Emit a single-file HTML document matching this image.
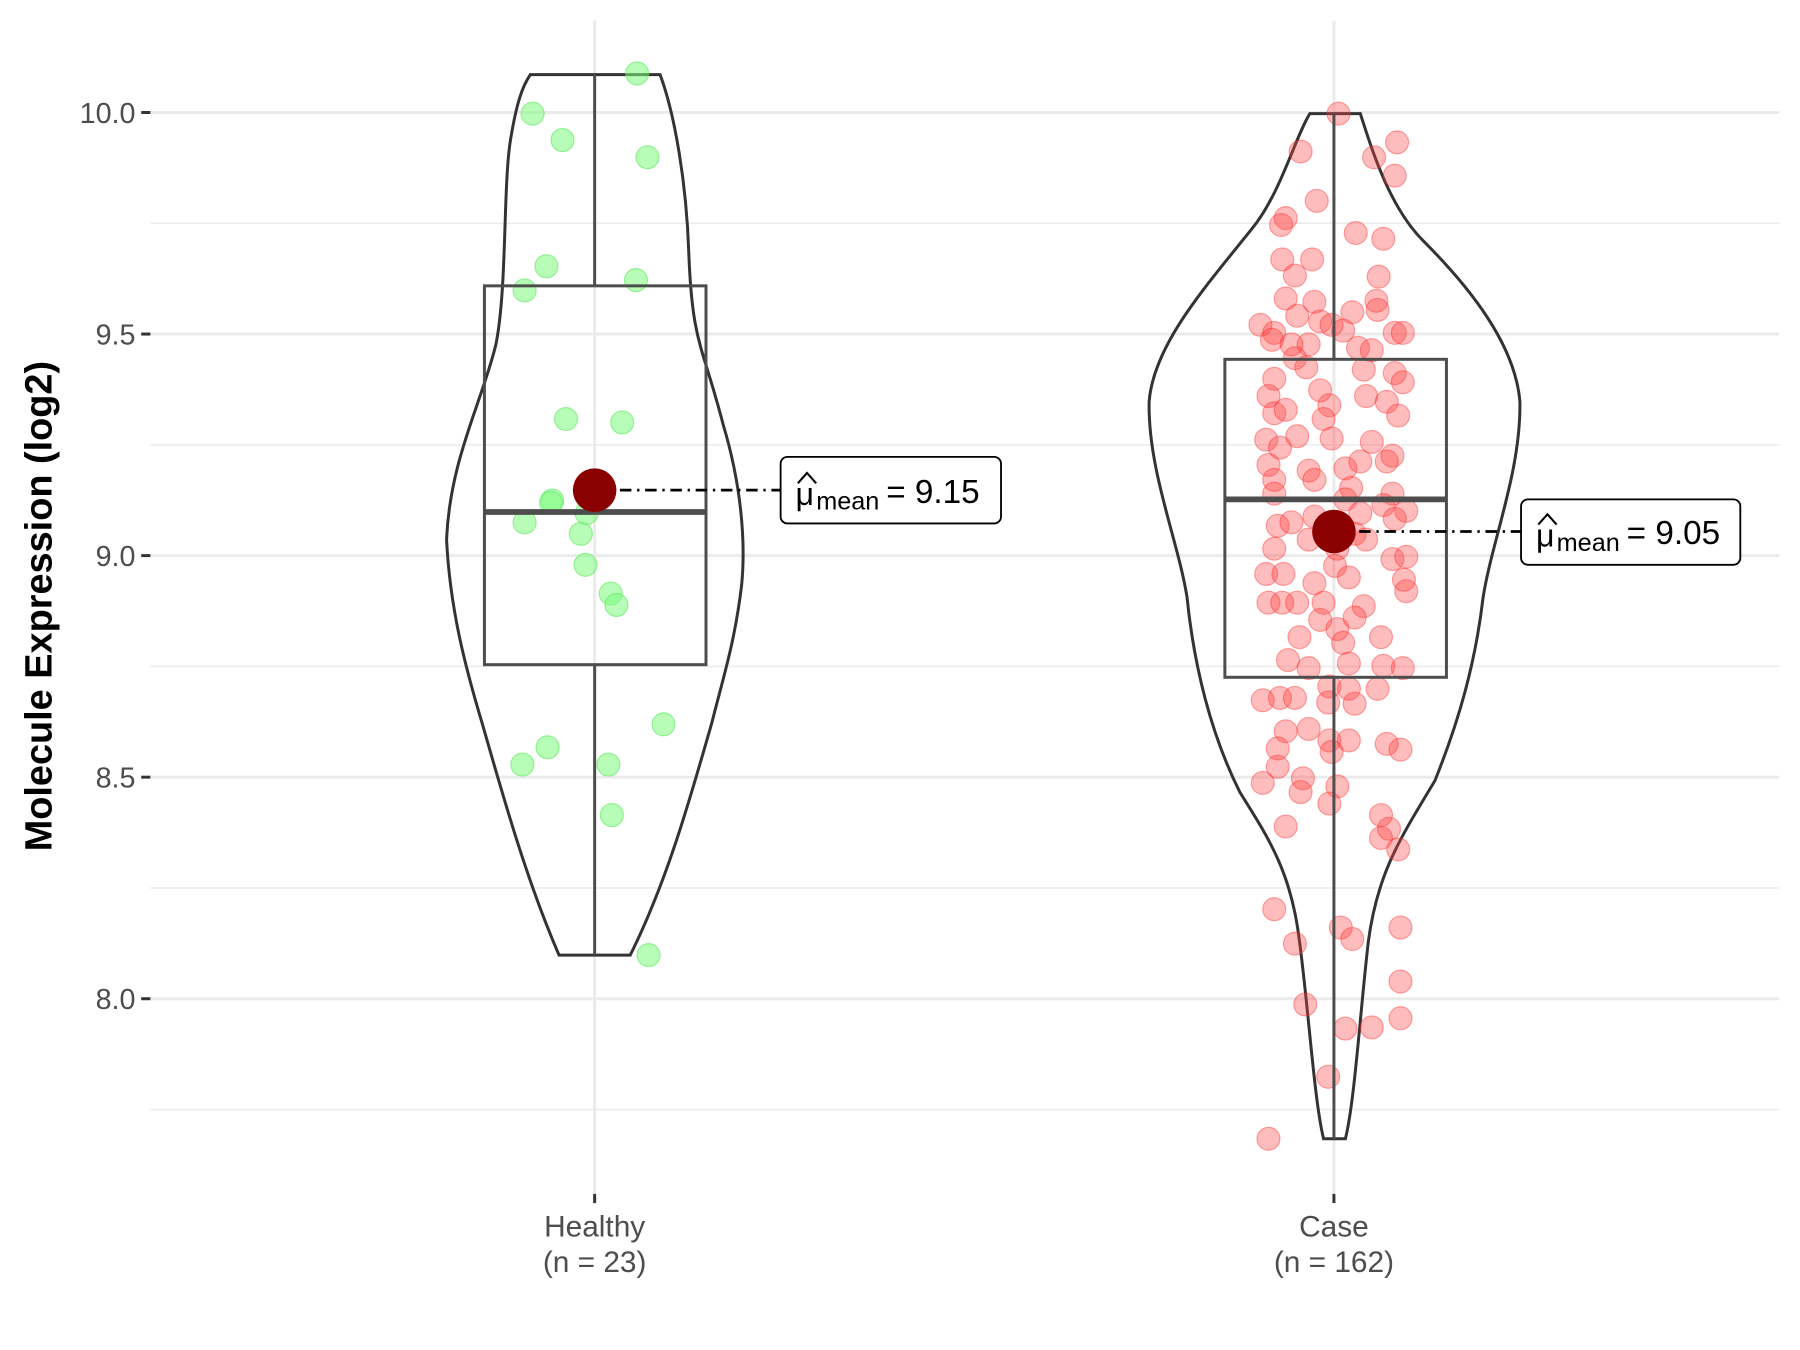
<!DOCTYPE html>
<html><head><meta charset="utf-8"><style>
html,body{margin:0;padding:0;background:#fff;}
svg{display:block;}
text{font-family:"Liberation Sans",sans-serif;}
</style></head><body>
<svg width="1800" height="1350" viewBox="0 0 1568 1176" preserveAspectRatio="none" xmlns="http://www.w3.org/2000/svg">
<rect width="1568" height="1176" fill="#fff"/>
<g stroke="#ebebeb" stroke-width="1.3">
<line x1="131" x2="1550" y1="194.5" y2="194.5"/>
<line x1="131" x2="1550" y1="387.5" y2="387.5"/>
<line x1="131" x2="1550" y1="580.5" y2="580.5"/>
<line x1="131" x2="1550" y1="773.5" y2="773.5"/>
<line x1="131" x2="1550" y1="966.5" y2="966.5"/>
</g>
<g stroke="#ebebeb" stroke-width="2.6">
<line x1="131" x2="1550" y1="98" y2="98"/>
<line x1="131" x2="1550" y1="291" y2="291"/>
<line x1="131" x2="1550" y1="484" y2="484"/>
<line x1="131" x2="1550" y1="677" y2="677"/>
<line x1="131" x2="1550" y1="870" y2="870"/>
<line x1="518" x2="518" y1="18" y2="1040"/>
<line x1="1162" x2="1162" y1="18" y2="1040"/>
</g>
<g stroke="#333" stroke-width="2.6">
<line x1="123" x2="131" y1="98" y2="98"/><line x1="123" x2="131" y1="291" y2="291"/>
<line x1="123" x2="131" y1="484" y2="484"/><line x1="123" x2="131" y1="677" y2="677"/>
<line x1="123" x2="131" y1="870" y2="870"/>
<line x1="518" x2="518" y1="1040" y2="1048"/><line x1="1162" x2="1162" y1="1040" y2="1048"/>
</g>
<g font-size="25" fill="#4d4d4d" text-anchor="end">
<text x="118" y="107">10.0</text><text x="118" y="300">9.5</text><text x="118" y="493">9.0</text>
<text x="118" y="686">8.5</text><text x="118" y="879">8.0</text>
</g>
<g font-size="26" fill="#4d4d4d" text-anchor="middle">
<text x="518" y="1077">Healthy</text><text x="518" y="1108">(n = 23)</text>
<text x="1162" y="1077">Case</text><text x="1162" y="1108">(n = 162)</text>
</g>
<text transform="translate(45,528) rotate(-90)" font-size="33" font-weight="bold" text-anchor="middle" fill="#000">Molecule Expression (log2)</text>

<path d="M462,65 L575,65 C588,100 598,160 600,220 C603,300 612,300 630,370 C645,420 650,470 646,510 C640,560 630,590 620,630 C600,700 580,770 549,832 L487,832 C460,770 440,700 420,630 C405,580 392,530 389,470 C392,400 420,350 432,300 C442,250 438,160 445,120 C450,90 455,75 462,65 Z" fill="none" stroke="#333" stroke-width="2.6"/>
<path d="M1141,99 L1185,99 C1195,130 1210,180 1240,210 C1280,250 1320,300 1324,350 C1325,410 1300,470 1292,520 C1285,580 1270,630 1250,680 C1220,730 1200,760 1192,820 C1185,880 1180,960 1172,992 L1153,992 C1145,960 1140,880 1132,820 C1125,760 1105,730 1080,690 C1055,640 1040,580 1034,520 C1026,470 1000,410 1001,350 C1005,300 1050,250 1090,200 C1115,170 1128,120 1141,99 Z" fill="none" stroke="#333" stroke-width="2.6"/>

<g fill="#7CFC7C" fill-opacity="0.55" stroke="#5ee65e" stroke-opacity="0.6" stroke-width="1">
<circle cx="464" cy="99" r="10"/><circle cx="490" cy="122" r="10"/><circle cx="555" cy="64" r="10"/>
<circle cx="564" cy="137" r="10"/><circle cx="476" cy="232" r="10"/><circle cx="457" cy="253" r="10"/>
<circle cx="554" cy="244" r="10"/><circle cx="493" cy="365" r="10"/><circle cx="542" cy="368" r="10"/>
<circle cx="481" cy="436" r="10"/><circle cx="457" cy="455" r="10"/><circle cx="506" cy="465" r="10"/>
<circle cx="510" cy="492" r="10"/><circle cx="532" cy="517" r="10"/><circle cx="537" cy="527" r="10"/>
<circle cx="578" cy="631" r="10"/><circle cx="477" cy="651" r="10"/><circle cx="455" cy="666" r="10"/>
<circle cx="530" cy="666" r="10"/><circle cx="533" cy="710" r="10"/><circle cx="565" cy="832" r="10"/>
<circle cx="511" cy="447" r="10"/><circle cx="480" cy="438" r="10"/>
</g>
<g fill="#ff4040" fill-opacity="0.35" stroke="#ff2020" stroke-opacity="0.4" stroke-width="1">
<circle cx="1166" cy="99" r="10"/><circle cx="1133" cy="132" r="10"/><circle cx="1217" cy="124" r="10"/><circle cx="1197" cy="137" r="10"/><circle cx="1215" cy="153" r="10"/>
<circle cx="1147" cy="175" r="10"/><circle cx="1120" cy="190" r="10"/><circle cx="1116" cy="196" r="10"/><circle cx="1181" cy="203" r="10"/><circle cx="1205" cy="208" r="10"/>
<circle cx="1117" cy="226" r="10"/><circle cx="1143" cy="226" r="10"/><circle cx="1128" cy="240" r="10"/><circle cx="1201" cy="241" r="10"/><circle cx="1120" cy="260" r="10"/>
<circle cx="1145" cy="263" r="10"/><circle cx="1199" cy="262" r="10"/><circle cx="1178" cy="272" r="10"/><circle cx="1200" cy="270" r="10"/><circle cx="1098" cy="283" r="10"/>
<circle cx="1110" cy="290" r="10"/><circle cx="1130" cy="275" r="10"/><circle cx="1150" cy="280" r="10"/><circle cx="1160" cy="283" r="10"/><circle cx="1170" cy="288" r="10"/>
<circle cx="1215" cy="290" r="10"/><circle cx="1222" cy="290" r="10"/><circle cx="1108" cy="296" r="10"/><circle cx="1140" cy="300" r="10"/><circle cx="1183" cy="303" r="10"/>
<circle cx="1128" cy="312" r="10"/><circle cx="1110" cy="330" r="10"/><circle cx="1138" cy="320" r="10"/><circle cx="1188" cy="322" r="10"/><circle cx="1215" cy="325" r="10"/>
<circle cx="1222" cy="333" r="10"/><circle cx="1105" cy="345" r="10"/><circle cx="1158" cy="353" r="10"/><circle cx="1190" cy="345" r="10"/><circle cx="1208" cy="350" r="10"/>
<circle cx="1110" cy="360" r="10"/><circle cx="1120" cy="357" r="10"/><circle cx="1153" cy="365" r="10"/><circle cx="1218" cy="362" r="10"/><circle cx="1103" cy="383" r="10"/>
<circle cx="1130" cy="380" r="10"/><circle cx="1160" cy="382" r="10"/><circle cx="1195" cy="385" r="10"/><circle cx="1115" cy="390" r="10"/><circle cx="1213" cy="397" r="10"/>
<circle cx="1105" cy="405" r="10"/><circle cx="1140" cy="410" r="10"/><circle cx="1172" cy="408" r="10"/><circle cx="1185" cy="402" r="10"/><circle cx="1208" cy="402" r="10"/>
<circle cx="1110" cy="418" r="10"/><circle cx="1145" cy="418" r="10"/><circle cx="1177" cy="425" r="10"/><circle cx="1213" cy="430" r="10"/><circle cx="1110" cy="430" r="10"/>
<circle cx="1172" cy="435" r="10"/><circle cx="1205" cy="440" r="10"/><circle cx="1225" cy="445" r="10"/><circle cx="1145" cy="450" r="10"/><circle cx="1185" cy="447" r="10"/>
<circle cx="1113" cy="458" r="10"/><circle cx="1215" cy="452" r="10"/><circle cx="1180" cy="465" r="10"/><circle cx="1110" cy="478" r="10"/><circle cx="1140" cy="470" r="10"/>
<circle cx="1165" cy="478" r="10"/><circle cx="1213" cy="487" r="10"/><circle cx="1225" cy="485" r="10"/><circle cx="1163" cy="493" r="10"/><circle cx="1103" cy="500" r="10"/>
<circle cx="1145" cy="508" r="10"/><circle cx="1175" cy="503" r="10"/><circle cx="1223" cy="505" r="10"/><circle cx="1225" cy="515" r="10"/><circle cx="1105" cy="525" r="10"/>
<circle cx="1117" cy="525" r="10"/><circle cx="1130" cy="525" r="10"/><circle cx="1153" cy="525" r="10"/><circle cx="1188" cy="528" r="10"/><circle cx="1180" cy="538" r="10"/>
<circle cx="1165" cy="548" r="10"/><circle cx="1132" cy="555" r="10"/><circle cx="1203" cy="555" r="10"/><circle cx="1122" cy="575" r="10"/><circle cx="1140" cy="582" r="10"/>
<circle cx="1175" cy="578" r="10"/><circle cx="1205" cy="580" r="10"/><circle cx="1222" cy="582" r="10"/><circle cx="1158" cy="598" r="10"/><circle cx="1175" cy="600" r="10"/>
<circle cx="1100" cy="610" r="10"/><circle cx="1115" cy="608" r="10"/><circle cx="1128" cy="608" r="10"/><circle cx="1157" cy="612" r="10"/><circle cx="1180" cy="613" r="10"/>
<circle cx="1120" cy="637" r="10"/><circle cx="1113" cy="652" r="10"/><circle cx="1158" cy="645" r="10"/><circle cx="1175" cy="645" r="10"/><circle cx="1208" cy="648" r="10"/>
<circle cx="1220" cy="653" r="10"/><circle cx="1160" cy="655" r="10"/><circle cx="1113" cy="668" r="10"/><circle cx="1100" cy="682" r="10"/><circle cx="1135" cy="678" r="10"/>
<circle cx="1165" cy="685" r="10"/><circle cx="1133" cy="690" r="10"/><circle cx="1158" cy="700" r="10"/><circle cx="1203" cy="710" r="10"/><circle cx="1120" cy="720" r="10"/>
<circle cx="1210" cy="722" r="10"/><circle cx="1203" cy="730" r="10"/><circle cx="1218" cy="740" r="10"/><circle cx="1110" cy="792" r="10"/><circle cx="1168" cy="808" r="10"/>
<circle cx="1220" cy="808" r="10"/><circle cx="1178" cy="818" r="10"/><circle cx="1128" cy="822" r="10"/><circle cx="1220" cy="855" r="10"/><circle cx="1137" cy="875" r="10"/>
<circle cx="1172" cy="896" r="10"/><circle cx="1195" cy="895" r="10"/><circle cx="1220" cy="887" r="10"/><circle cx="1157" cy="938" r="10"/><circle cx="1105" cy="992" r="10"/>
<circle cx="1125" cy="300" r="10"/><circle cx="1195" cy="305" r="10"/><circle cx="1150" cy="340" r="10"/><circle cx="1125" cy="455" r="10"/><circle cx="1190" cy="470" r="10"/>
<circle cx="1150" cy="540" r="10"/><circle cx="1200" cy="600" r="10"/><circle cx="1140" cy="635" r="10"/><circle cx="1170" cy="560" r="10"/><circle cx="1118" cy="500" r="10"/>
</g>

<g fill="none" stroke="#4d4d4d" stroke-width="2.6">
<line x1="518" x2="518" y1="65" y2="249"/><line x1="518" x2="518" y1="579" y2="832"/>
<rect x="422" y="249" width="193" height="330"/>
<line x1="1162" x2="1162" y1="99" y2="313"/><line x1="1162" x2="1162" y1="590" y2="992"/>
<rect x="1067" y="313" width="193" height="277"/>
</g>
<line x1="422" x2="615" y1="446" y2="446" stroke="#4d4d4d" stroke-width="5"/>
<line x1="1067" x2="1260" y1="435" y2="435" stroke="#4d4d4d" stroke-width="5"/>

<line x1="518" x2="680" y1="427" y2="427" stroke="#000" stroke-width="2.4" stroke-dasharray="10,5,2,5"/>
<line x1="1162" x2="1325" y1="463" y2="463" stroke="#000" stroke-width="2.4" stroke-dasharray="10,5,2,5"/>
<circle cx="518" cy="427" r="19" fill="#8b0000"/>
<circle cx="1162" cy="463" r="19" fill="#8b0000"/>
<rect x="680" y="398" width="192" height="58" rx="6" fill="#fff" stroke="#000" stroke-width="1.6"/>
<rect x="1325" y="435" width="191" height="57" rx="6" fill="#fff" stroke="#000" stroke-width="1.6"/>
<g fill="#000">
<text x="693" y="440" font-size="28">μ</text><path d="M695,421 L703,412 L711,421" fill="none" stroke="#000" stroke-width="1.8"/>
<text x="711" y="444" font-size="22">mean</text><text x="772" y="438" font-size="29">= 9.15</text>
<text x="1338" y="476" font-size="28">μ</text><path d="M1340,457 L1348,448 L1356,457" fill="none" stroke="#000" stroke-width="1.8"/>
<text x="1356" y="480" font-size="22">mean</text><text x="1417" y="474" font-size="29">= 9.05</text>
</g>
</svg>
</body></html>
